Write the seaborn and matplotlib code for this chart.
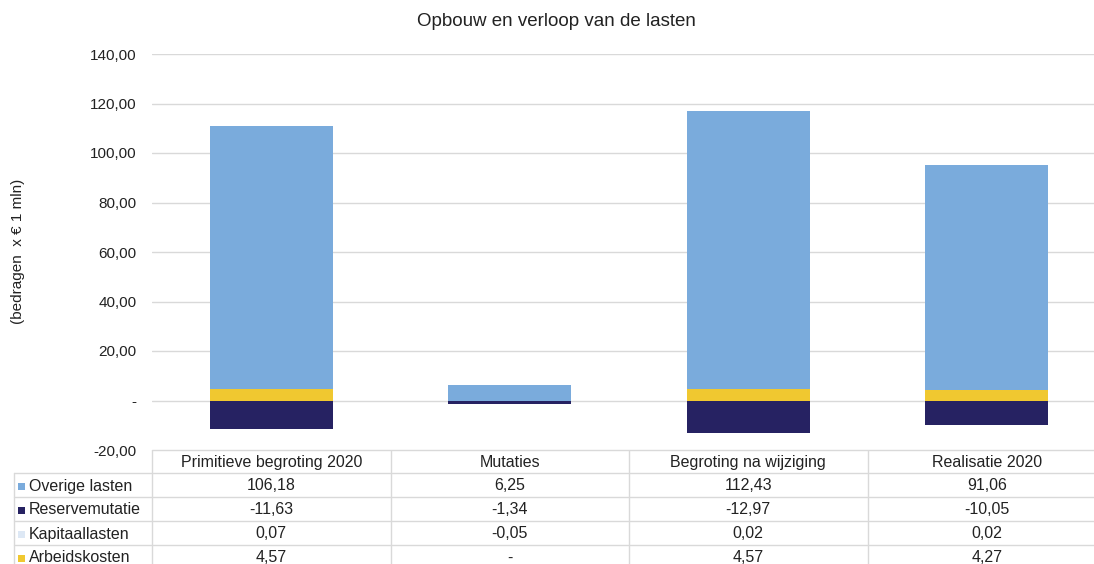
import matplotlib
matplotlib.use("Agg")
import matplotlib.pyplot as plt
import matplotlib.transforms as mtrans
import numpy as np
import pandas as pd
import seaborn as sns

# ---- data ----
categories = ["Primitieve begroting 2020", "Mutaties", "Begroting na wijziging", "Realisatie 2020"]
overige_lasten = [106.18, 6.25, 112.43, 91.06]
reservemutatie = [-11.63, -1.34, -12.97, -10.05]
kapitaallasten = [0.07, -0.05, 0.02, 0.02]
arbeidskosten = [4.57, 0.0, 4.57, 4.27]
series_names = ["Overige lasten", "Reservemutatie", "Kapitaallasten", "Arbeidskosten"]
y_ticks = [-20, 0, 20, 40, 60, 80, 100, 120, 140]
title = "Opbouw en verloop van de lasten"
y_label = "(bedragen  x € 1 mln)"

colors = {
    "Overige lasten": "#7aabdc",
    "Reservemutatie": "#262262",
    "Kapitaallasten": "#dde8f5",
    "Arbeidskosten": "#f0c830",
}

series = {
    "Overige lasten": overige_lasten,
    "Reservemutatie": reservemutatie,
    "Kapitaallasten": kapitaallasten,
    "Arbeidskosten": arbeidskosten,
}

sns.set_theme(style="white")
plt.rcParams["font.family"] = ["Liberation Sans", "DejaVu Sans"]

W, H = 1094, 564
fig = plt.figure(figsize=(W / 100, H / 100), dpi=100)
ax = fig.add_axes([152 / W, 1 - 450 / H, (1106 - 152) / W, 396 / H])

# stacking order (bottom -> top): Arbeidskosten, Kapitaallasten, Overige lasten; negatives downward
stack_order = ["Arbeidskosten", "Kapitaallasten", "Overige lasten", "Reservemutatie"]
pos_bottom = np.zeros(len(categories))
neg_bottom = np.zeros(len(categories))
for name in stack_order:
    vals = np.array(series[name], dtype=float)
    bottoms = np.where(vals >= 0, pos_bottom, neg_bottom)
    df = pd.DataFrame({"cat": categories, "val": vals})
    sns.barplot(data=df, x="cat", y="val", order=categories, color=colors[name],
                saturation=1, width=0.514, bottom=bottoms, errorbar=None,
                linewidth=0, ax=ax, zorder=3)
    pos_bottom = pos_bottom + np.where(vals >= 0, vals, 0)
    neg_bottom = neg_bottom + np.where(vals < 0, vals, 0)

ax.set_xlim(-0.5, len(categories) - 0.5)
ax.set_ylim(min(y_ticks), max(y_ticks))
ax.set_yticks(y_ticks)
ax.set_yticklabels(["-" if t == 0 else f"{t:.2f}".replace(".", ",") for t in y_ticks],
                   fontsize=11, color="#222222")
ax.tick_params(axis="y", length=0, pad=11)
ax.set_xticks([])
ax.set_xlabel("")
ax.set_ylabel("")
ax.grid(axis="y", color="#d9d9d9", linewidth=1, zorder=0)
ax.grid(axis="x", visible=False)
for s in ax.spines.values():
    s.set_visible(False)

fig.text(556 / W, 1 - 22 / H, title, ha="center", va="center", fontsize=13.5, color="#222222")
fig.text(18 / W, 1 - 251 / H, y_label, ha="center", va="center", rotation=90,
         fontsize=11, color="#222222")

# ---- data table ----
tab = fig.add_axes([0, 0, 1, 1], zorder=-1)
tab.set_xlim(0, W)
tab.set_ylim(H, 0)
tab.axis("off")
bt = mtrans.blended_transform_factory(ax.transData, tab.transData)
gc = "#d9d9d9"
row_edges = [450, 473, 497, 521, 545, 569]
n = len(categories)
# horizontal lines
tab.plot([152, W], [row_edges[0]] * 2, color=gc, lw=1)
for yy in row_edges[1:]:
    tab.plot([14, W], [yy, yy], color=gc, lw=1)
# vertical lines
tab.plot([14, 14], [row_edges[1], H], color=gc, lw=1)
for i in range(n):
    ax_x = i - 0.5
    tab.plot([ax_x, ax_x], [row_edges[0], H], color=gc, lw=1, transform=bt)

def fmt(v):
    return "-" if v == 0 else f"{v:.2f}".replace(".", ",")

# header row
for i, c in enumerate(categories):
    tab.text(i, (row_edges[0] + row_edges[1]) / 2 + 1, c, transform=bt,
             ha="center", va="center", fontsize=11.5, color="#222222")
for r, name in enumerate(series_names):
    yc = (row_edges[r + 1] + row_edges[r + 2]) / 2 + 1
    tab.add_patch(plt.Rectangle((18, yc - 3.5), 7, 7, color=colors[name], lw=0))
    tab.text(29, yc, name, ha="left", va="center", fontsize=11.5, color="#222222")
    for i, v in enumerate(series[name]):
        tab.text(i, yc, fmt(v), transform=bt, ha="center", va="center",
                 fontsize=11.5, color="#222222")

fig.savefig("out.png", dpi=100, facecolor="white")
